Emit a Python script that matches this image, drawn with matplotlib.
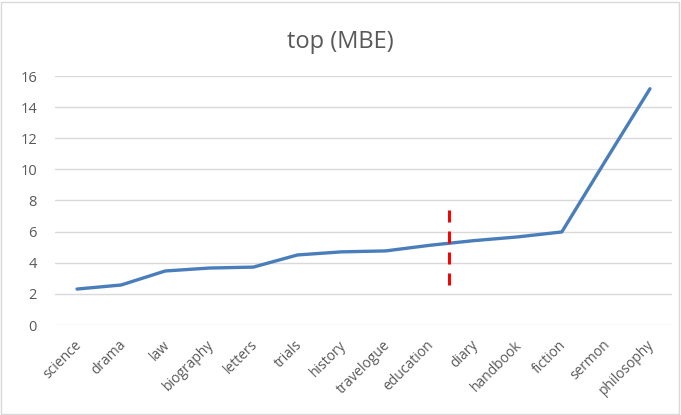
import matplotlib
matplotlib.use("Agg")
import matplotlib.pyplot as plt
from matplotlib.patches import Rectangle
from matplotlib.transforms import ScaledTranslation

categories = ["science", "drama", "law", "biography", "letters", "trials", "history",
              "travelogue", "education", "diary", "handbook", "fiction", "sermon", "philosophy"]
values = [2.31, 2.57, 3.47, 3.66, 3.72, 4.5, 4.7, 4.76, 5.12, 5.42, 5.66, 5.98, 10.6, 15.18]
title = "top (MBE)"
marker_pos = 8.43
marker_range = [7.4, 2.6]

plt.rcParams['font.family'] = ['Open Sans', 'DejaVu Sans']
fig = plt.figure(figsize=(6.81, 4.15), dpi=100)
ax = fig.add_axes([55/681, 90/415, 617/681, 249/415])

x = list(range(len(categories)))
ax.plot(x, values, color='#4a7ebb', lw=2.4, solid_capstyle='round', zorder=3)
ax.plot([marker_pos, marker_pos], marker_range, color='#ff0000', lw=2.16,
        linestyle=(0, (4, 3)), dash_capstyle='butt', zorder=4)

ax.set_xlim(-0.5, len(categories) - 0.5)
ax.set_ylim(0, 16)
ax.set_yticks(range(0, 17, 2))
ax.yaxis.grid(True, color='#d9d9d9', lw=1)
ax.set_axisbelow(True)
for s in ax.spines.values():
    s.set_visible(False)
ax.tick_params(axis='both', length=0, colors='#595959', labelsize=10)
ax.tick_params(axis='y', labelsize=10.5, pad=13)
ax.set_xticks(x)
ax.set_xticklabels(categories, rotation=45, ha='right', rotation_mode='anchor')
ax.tick_params(axis='x', pad=9)
for lbl in ax.get_xticklabels():
    lbl.set_transform(lbl.get_transform() + ScaledTranslation(-3/100, 0, fig.dpi_scale_trans))

fig.text(0.5, 1 - 42/415, title, ha='center', va='center', fontsize=17, color='#595959')
fig.patches.append(Rectangle((1/681, 1/415), 678/681, 412/415, transform=fig.transFigure,
                             fill=False, edgecolor='#d9d9d9', lw=1))
fig.savefig("out.png", dpi=100)
